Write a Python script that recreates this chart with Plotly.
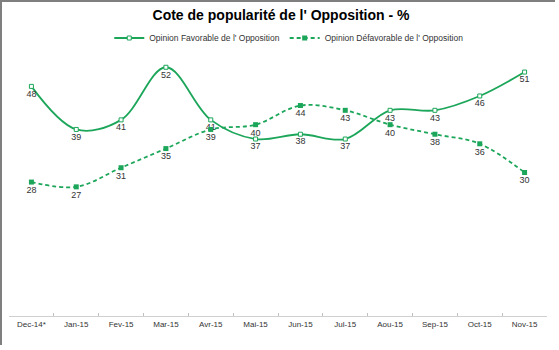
import plotly.graph_objects as go

months = ["Dec-14*", "Jan-15", "Fev-15", "Mar-15", "Avr-15", "Mai-15", "Jun-15",
          "Jul-15", "Aou-15", "Sep-15", "Oct-15", "Nov-15"]
favorable = [48, 39, 41, 52, 41, 37, 38, 37, 43, 43, 46, 51]
defavorable = [28, 27, 31, 35, 39, 40, 44, 43, 40, 38, 36, 30]

GREEN = "#1ca65a"
W, H = 559, 350
L, R, T, B = 9, 12, 29, 34
pw, ph = W - L - R, H - T - B

fig = go.Figure()
fig.add_trace(go.Scatter(
    x=months, y=favorable, name="Opinion Favorable de l' Opposition",
    mode="lines+markers+text", line=dict(color=GREEN, width=1.8, shape="spline", smoothing=1),
    marker=dict(symbol="square", size=4, color="white", line=dict(color=GREEN, width=1)),
    text=[str(v) for v in favorable], textposition="bottom center",
    textfont=dict(size=9, color="#333333", family="Arial, Liberation Sans"),
))
fig.add_trace(go.Scatter(
    x=months, y=defavorable, name="Opinion Défavorable de l' Opposition",
    mode="lines+markers+text", line=dict(color=GREEN, width=1.8, dash="4px,3px", shape="spline", smoothing=1),
    marker=dict(symbol="square", size=5, color=GREEN),
    text=[str(v) for v in defavorable], textposition="bottom center",
    textfont=dict(size=9, color="#333333", family="Arial, Liberation Sans"),
))

fig.update_layout(
    width=W, height=H, margin=dict(l=L, r=R, t=T, b=B),
    paper_bgcolor="white", plot_bgcolor="white",
    font=dict(family="Arial, Liberation Sans", color="#333333"),
    title=dict(text="<b>Cote de popularité de l' Opposition - %</b>",
               x=(281) / W, xanchor="center", y=1 - 15 / H, yanchor="middle",
               font=dict(size=14, color="#000000")),
    showlegend=True,
    legend=dict(orientation="h", x=0.52, xanchor="center",
                y=(H - B - 38) / ph, yanchor="middle", itemwidth=30,
                font=dict(size=8.5, color="#333333"), bgcolor="rgba(0,0,0,0)"),
    xaxis=dict(type="category", showgrid=False, showline=True, linecolor="#d0d0d0",
               linewidth=1, ticks="inside", ticklen=3, tickcolor="#c0c0c0",
               tickson="boundaries", tickfont=dict(size=8, color="#333333"),
               range=[-0.5, 11.5]),
    yaxis=dict(range=[0, 60], visible=False, showgrid=False, zeroline=False),
    shapes=[
        dict(type="line", xref="paper", yref="paper",
             x0=(0 - L) / pw, x1=(555 - L) / pw, y0=(H - B - 1) / ph, y1=(H - B - 1) / ph,
             line=dict(color="#7f7f7f", width=2)),
        dict(type="line", xref="paper", yref="paper",
             x0=(1 - L) / pw, x1=(1 - L) / pw, y0=(H - B) / ph, y1=-(B - 5) / ph,
             line=dict(color="#7f7f7f", width=2)),
    ],
)

fig.write_html("out.html")
